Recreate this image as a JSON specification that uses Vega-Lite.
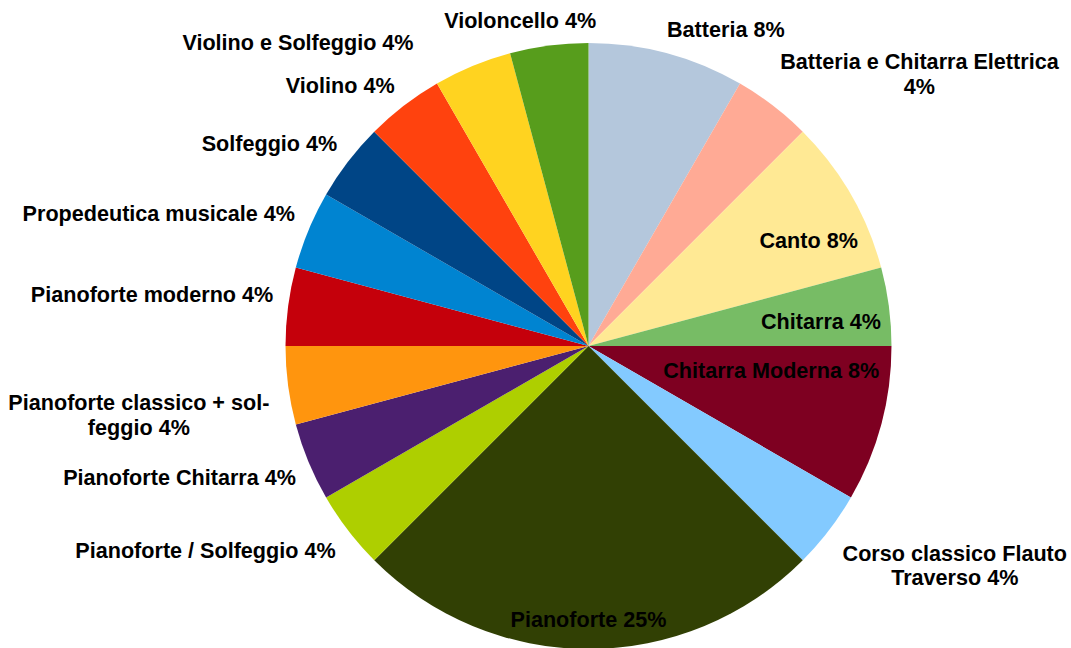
{
  "$schema": "https://vega.github.io/schema/vega-lite/v6.json",
  "width": 965,
  "height": 604,
  "autosize": {"type": "none"},
  "padding": {"left": 106, "top": 44, "right": 0, "bottom": 0},
  "background": "white",
  "config": {
    "view": {"stroke": null},
    "text": {"font": "Liberation Sans", "fontWeight": "bold", "fontSize": 21.6, "fill": "#000000", "lineHeight": 24.5, "lineBreak": "\n"}
  },
  "data": {
    "values": [
      {"instrument": "Batteria", "count": 2, "label": "Batteria 8%"},
      {"instrument": "Batteria e Chitarra Elettrica", "count": 1, "label": "Batteria e Chitarra Elettrica\n4%"},
      {"instrument": "Canto", "count": 2, "label": "Canto 8%"},
      {"instrument": "Chitarra", "count": 1, "label": "Chitarra 4%"},
      {"instrument": "Chitarra Moderna", "count": 2, "label": "Chitarra Moderna 8%"},
      {"instrument": "Corso classico Flauto Traverso", "count": 1, "label": "Corso classico Flauto\nTraverso 4%"},
      {"instrument": "Pianoforte", "count": 6, "label": "Pianoforte 25%"},
      {"instrument": "Pianoforte / Solfeggio", "count": 1, "label": "Pianoforte / Solfeggio 4%"},
      {"instrument": "Pianoforte Chitarra", "count": 1, "label": "Pianoforte Chitarra 4%"},
      {"instrument": "Pianoforte classico + solfeggio", "count": 1, "label": "Pianoforte classico + sol-\nfeggio 4%"},
      {"instrument": "Pianoforte moderno", "count": 1, "label": "Pianoforte moderno 4%"},
      {"instrument": "Propedeutica musicale", "count": 1, "label": "Propedeutica musicale 4%"},
      {"instrument": "Solfeggio", "count": 1, "label": "Solfeggio 4%"},
      {"instrument": "Violino", "count": 1, "label": "Violino 4%"},
      {"instrument": "Violino e Solfeggio", "count": 1, "label": "Violino e Solfeggio 4%"},
      {"instrument": "Violoncello", "count": 1, "label": "Violoncello 4%"}
    ]
  },
  "transform": [
    {"stack": "count", "groupby": [], "sort": [{"field": "instrument", "order": "ascending"}], "as": ["t0", "t1"]},
    {"calculate": "(datum.t0 + datum.t1) / 2", "as": "mid"}
  ],
  "layer": [
    {
      "mark": {"type": "arc", "outerRadius": 303},
      "encoding": {
        "theta": {"field": "t0", "type": "quantitative", "stack": null, "scale": {"domain": [0, 24]}},
        "theta2": {"field": "t1"},
        "color": {
          "field": "instrument",
          "type": "nominal",
          "legend": null,
          "scale": {
            "domain": ["Batteria", "Batteria e Chitarra Elettrica", "Canto", "Chitarra", "Chitarra Moderna", "Corso classico Flauto Traverso", "Pianoforte", "Pianoforte / Solfeggio", "Pianoforte Chitarra", "Pianoforte classico + solfeggio", "Pianoforte moderno", "Propedeutica musicale", "Solfeggio", "Violino", "Violino e Solfeggio", "Violoncello"],
            "range": ["#b4c7dc", "#ffaa95", "#ffe994", "#77bc65", "#7e0021", "#83caff", "#314004", "#aecf00", "#4b1f6f", "#ff950e", "#c5000b", "#0084d1", "#004586", "#ff420e", "#ffd320", "#579d1c"]
          }
        }
      }
    },
    {"transform": [{"filter": "datum.instrument === 'Batteria'"}], "mark": {"type": "text", "radius": 345, "align": "center", "baseline": "middle", "dx": 48, "dy": 18.5}, "encoding": {"theta": {"field": "mid", "type": "quantitative", "stack": null}, "text": {"field": "label"}}},
    {"transform": [{"filter": "datum.instrument === 'Batteria e Chitarra Elettrica'"}], "mark": {"type": "text", "radius": 428, "align": "center", "baseline": "middle", "dx": 70.4, "dy": 57}, "encoding": {"theta": {"field": "mid", "type": "quantitative", "stack": null}, "text": {"field": "label"}}},
    {"transform": [{"filter": "datum.instrument === 'Canto'"}], "mark": {"type": "text", "radius": 245, "align": "center", "baseline": "middle", "dx": 8, "dy": 18}, "encoding": {"theta": {"field": "mid", "type": "quantitative", "stack": null}, "text": {"field": "label"}}},
    {"transform": [{"filter": "datum.instrument === 'Chitarra'"}], "mark": {"type": "text", "radius": 234, "align": "center", "baseline": "middle", "dx": 0.5, "dy": 8}, "encoding": {"theta": {"field": "mid", "type": "quantitative", "stack": null}, "text": {"field": "label"}}},
    {"transform": [{"filter": "datum.instrument === 'Chitarra Moderna'"}], "mark": {"type": "text", "radius": 185, "align": "center", "baseline": "middle", "dx": 4, "dy": -21.5}, "encoding": {"theta": {"field": "mid", "type": "quantitative", "stack": null}, "text": {"field": "label"}}},
    {"transform": [{"filter": "datum.instrument === 'Corso classico Flauto Traverso'"}], "mark": {"type": "text", "radius": 424.5, "align": "center", "baseline": "middle", "dx": 29.5, "dy": -49.6}, "encoding": {"theta": {"field": "mid", "type": "quantitative", "stack": null}, "text": {"field": "label"}}},
    {"transform": [{"filter": "datum.instrument === 'Pianoforte'"}], "mark": {"type": "text", "radius": 273, "align": "center", "baseline": "middle", "dx": 0, "dy": 1.5}, "encoding": {"theta": {"field": "mid", "type": "quantitative", "stack": null}, "text": {"field": "label"}}},
    {"transform": [{"filter": "datum.instrument === 'Pianoforte / Solfeggio'"}], "mark": {"type": "text", "radius": 325, "align": "right", "baseline": "middle", "dx": 5, "dy": 8.5}, "encoding": {"theta": {"field": "mid", "type": "quantitative", "stack": null}, "text": {"field": "label"}}},
    {"transform": [{"filter": "datum.instrument === 'Pianoforte Chitarra'"}], "mark": {"type": "text", "radius": 321, "align": "right", "baseline": "middle", "dx": 4, "dy": 10.5}, "encoding": {"theta": {"field": "mid", "type": "quantitative", "stack": null}, "text": {"field": "label"}}},
    {"transform": [{"filter": "datum.instrument === 'Pianoforte classico + solfeggio'"}], "mark": {"type": "text", "radius": 450, "align": "center", "baseline": "middle", "dx": -3.5, "dy": -0.6}, "encoding": {"theta": {"field": "mid", "type": "quantitative", "stack": null}, "text": {"field": "label"}}},
    {"transform": [{"filter": "datum.instrument === 'Pianoforte moderno'"}], "mark": {"type": "text", "radius": 320, "align": "right", "baseline": "middle", "dx": 2, "dy": -8.5}, "encoding": {"theta": {"field": "mid", "type": "quantitative", "stack": null}, "text": {"field": "label"}}},
    {"transform": [{"filter": "datum.instrument === 'Propedeutica musicale'"}], "mark": {"type": "text", "radius": 322, "align": "right", "baseline": "middle", "dx": 4, "dy": -7.5}, "encoding": {"theta": {"field": "mid", "type": "quantitative", "stack": null}, "text": {"field": "label"}}},
    {"transform": [{"filter": "datum.instrument === 'Solfeggio'"}], "mark": {"type": "text", "radius": 323, "align": "right", "baseline": "middle", "dx": 5, "dy": -4.5}, "encoding": {"theta": {"field": "mid", "type": "quantitative", "stack": null}, "text": {"field": "label"}}},
    {"transform": [{"filter": "datum.instrument === 'Violino'"}], "mark": {"type": "text", "radius": 325, "align": "right", "baseline": "middle", "dx": 4, "dy": -1.5}, "encoding": {"theta": {"field": "mid", "type": "quantitative", "stack": null}, "text": {"field": "label"}}},
    {"transform": [{"filter": "datum.instrument === 'Violino e Solfeggio'"}], "mark": {"type": "text", "radius": 350, "align": "right", "baseline": "middle", "dx": -41, "dy": 21.5}, "encoding": {"theta": {"field": "mid", "type": "quantitative", "stack": null}, "text": {"field": "label"}}},
    {"transform": [{"filter": "datum.instrument === 'Violoncello'"}], "mark": {"type": "text", "radius": 332, "align": "center", "baseline": "middle", "dx": -25, "dy": 5.5}, "encoding": {"theta": {"field": "mid", "type": "quantitative", "stack": null}, "text": {"field": "label"}}}
  ]
}
